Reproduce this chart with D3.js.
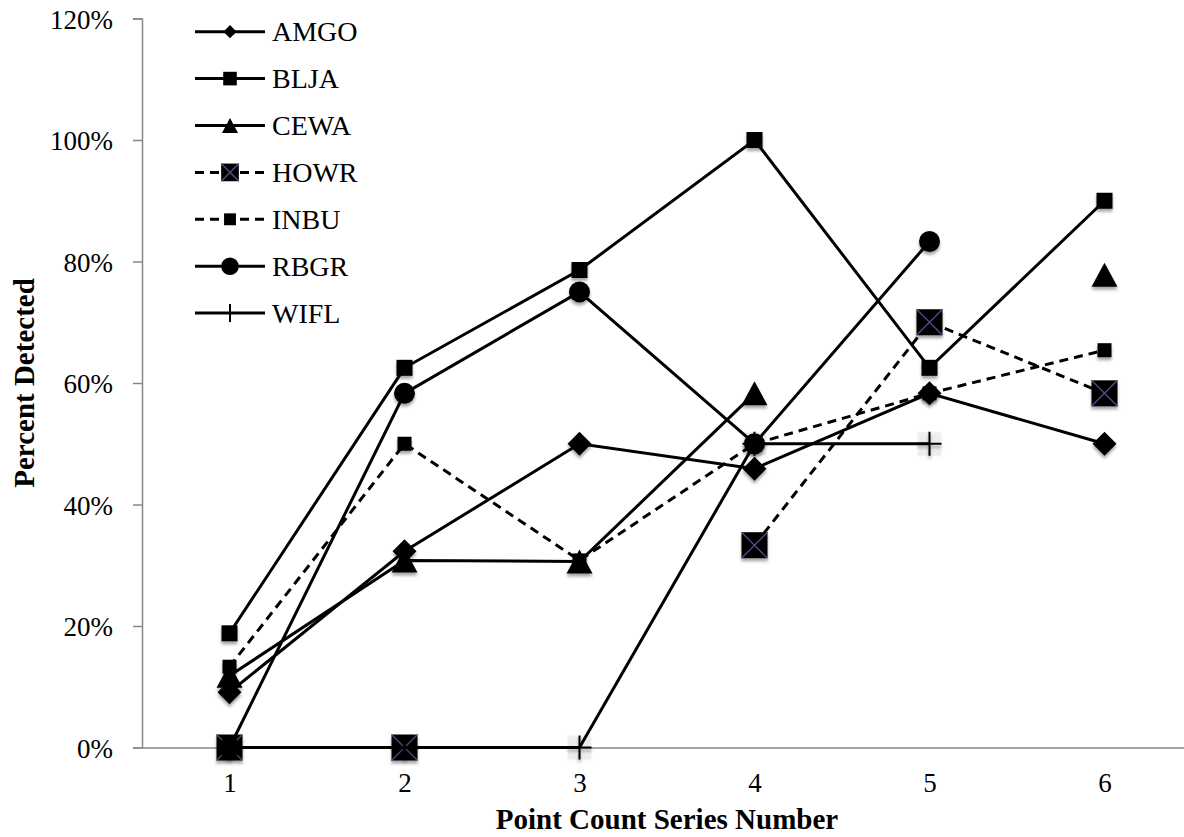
<body style="margin:0;background:#fff"></body>

<script type='text/javascript' src='https://d3js.org/d3.v7.min.js'></script>
<script>
    var width = 1184, height = 837;
    var serif = '"Liberation Serif", "Times New Roman", Times, serif';

    // data (percent detected)
    var categories = [1, 2, 3, 4, 5, 6];
    var yTicks = [0, 20, 40, 60, 80, 100, 120];
    var amgo = [9.1, 32.3, 50, 45.9, 58.3, 50];
    var blja = [18.8, 62.5, 78.6, 100, 62.5, 90];
    var cewa = [11.8, 30.8, 30.6, 58.3, null, 77.8];
    var howr = [0, 0, null, 33.3, 70, 58.3];
    var inbu = [13.3, 50, 30.8, 50, 58.3, 65.4];
    var rbgr = [0, 58.3, 75, 50, 83.3, null];
    var wifl = [0, 0, 0, 50, 50, null];

    var series = [
        { name: 'AMGO', values: amgo, dashed: false, marker: 'diamond', legendScale: 0.55 },
        { name: 'BLJA', values: blja, dashed: false, marker: 'square', legendScale: 0.85 },
        { name: 'CEWA', values: cewa, dashed: false, marker: 'triangle', legendScale: 0.62 },
        { name: 'HOWR', values: howr, dashed: true, marker: 'xsquare', legendScale: 0.68 },
        { name: 'INBU', values: inbu, dashed: true, marker: 'smallsquare', legendScale: 0.85 },
        { name: 'RBGR', values: rbgr, dashed: false, marker: 'circle', legendScale: 0.84 },
        { name: 'WIFL', values: wifl, dashed: false, marker: 'plus', legendScale: 0.75 }
    ];

    var svg = d3.select('body').append('svg')
        .attr('width', width).attr('height', height);

    // soft shadow under the markers
    var filt = svg.append('defs').append('filter').attr('id', 'shadow')
        .attr('x', '-50%').attr('y', '-50%').attr('width', '200%').attr('height', '200%');
    filt.append('feDropShadow').attr('dx', 0).attr('dy', 3).attr('stdDeviation', 1.8)
        .attr('flood-color', '#000').attr('flood-opacity', 0.35);

    var x = d3.scalePoint().domain(categories).range([142, 1192]).padding(0.5);
    var y = d3.scaleLinear().domain([0, 120]).range([747.5, 18.5]);

    // y axis
    var yAxis = svg.append('g').attr('transform', 'translate(142,0)')
        .call(d3.axisLeft(y).tickValues(yTicks).tickSize(9).tickPadding(20)
            .tickFormat(function (d) { return d + '%'; }));
    yAxis.select('.domain').attr('stroke', '#888').attr('stroke-width', 1.5);
    yAxis.selectAll('.tick line').attr('stroke', '#888').attr('stroke-width', 1.5);
    yAxis.selectAll('text').attr('fill', '#000').attr('dy', '0.36em')
        .style('font-family', serif).style('font-size', '27px');

    // x axis
    var xAxis = svg.append('g').attr('transform', 'translate(0,747.5)')
        .call(d3.axisBottom(x).tickSize(0).tickPadding(25));
    xAxis.select('.domain').attr('stroke', '#888').attr('stroke-width', 1.5);
    xAxis.selectAll('text').attr('fill', '#000')
        .style('font-family', serif).style('font-size', '27px');

    // axis titles
    svg.append('text').attr('x', 667).attr('y', 829).attr('text-anchor', 'middle')
        .style('font-family', serif).style('font-size', '29px').style('font-weight', 'bold')
        .text('Point Count Series Number');
    svg.append('text').attr('transform', 'translate(34,383) rotate(-90)')
        .attr('text-anchor', 'middle')
        .style('font-family', serif).style('font-size', '29px').style('font-weight', 'bold')
        .text('Percent Detected');

    function drawMarker(g, type, s, inLegend) {
        if (type === 'diamond') {
            var h = 12 * s;
            g.append('path').attr('d', 'M0,' + (-h) + 'L' + h + ',0L0,' + h + 'L' + (-h) + ',0Z').attr('fill', '#000');
        } else if (type === 'square') {
            var a = 8 * s;
            g.append('rect').attr('x', -a).attr('y', -a).attr('width', 2 * a).attr('height', 2 * a).attr('fill', '#000');
        } else if (type === 'smallsquare') {
            var b = 7 * s;
            g.append('rect').attr('x', -b).attr('y', -b).attr('width', 2 * b).attr('height', 2 * b).attr('fill', '#000');
        } else if (type === 'triangle') {
            var w = 13 * s, t = 12 * s;
            g.append('path').attr('d', 'M0,' + (-t) + 'L' + w + ',' + t + 'L' + (-w) + ',' + t + 'Z').attr('fill', '#000');
        } else if (type === 'xsquare') {
            var c = 13 * s;
            g.append('rect').attr('x', -c).attr('y', -c).attr('width', 2 * c).attr('height', 2 * c).attr('fill', '#000');
            g.append('path').attr('d', 'M' + (-c) + ',' + (-c) + 'L' + c + ',' + c + 'M' + c + ',' + (-c) + 'L' + (-c) + ',' + c)
                .attr('stroke', '#5e4a8a').attr('stroke-width', 1.3);
        } else if (type === 'circle') {
            g.append('circle').attr('r', 10.5 * s).attr('fill', '#000');
        } else if (type === 'plus') {
            var p = 12 * s;
            if (!inLegend) {
                // faint translucent box, as in the reference
                g.append('rect').attr('x', -p).attr('y', -p).attr('width', 2 * p).attr('height', 2 * p)
                    .attr('fill', '#000').attr('fill-opacity', 0.05);
            }
            g.append('path').attr('d', 'M' + (-p) + ',0L' + p + ',0M0,' + (-p) + 'L0,' + p)
                .attr('stroke', '#000').attr('stroke-width', 2);
        }
    }

    var line = d3.line()
        .defined(function (d) { return d.v !== null; })
        .x(function (d) { return x(d.c); })
        .y(function (d) { return y(d.v); });

    // each series: line, then its markers; later series on top
    series.forEach(function (s) {
        var pts = s.values.map(function (v, i) { return { c: categories[i], v: v }; });
        var g = svg.append('g');
        g.append('path').datum(pts).attr('d', line)
            .attr('fill', 'none').attr('stroke', '#000').attr('stroke-width', 3)
            .attr('stroke-dasharray', s.dashed ? '9,6' : null);
        pts.filter(function (d) { return d.v !== null; }).forEach(function (d) {
            var m = g.append('g').attr('transform', 'translate(' + x(d.c) + ',' + y(d.v) + ')')
                .attr('filter', 'url(#shadow)');
            drawMarker(m, s.marker, 1, false);
        });
    });

    // legend
    var legend = svg.append('g');
    series.forEach(function (s, i) {
        var ly = 31.7 + i * 46.9;
        var row = legend.append('g').attr('transform', 'translate(0,' + ly + ')');
        row.append('line').attr('x1', 195).attr('x2', 265).attr('y1', 0).attr('y2', 0)
            .attr('stroke', '#000').attr('stroke-width', 3)
            .attr('stroke-dasharray', s.dashed ? '9,6' : null);
        var m = row.append('g').attr('transform', 'translate(230,0)');
        drawMarker(m, s.marker, s.legendScale, true);
        row.append('text').attr('x', 272).attr('y', 9.5)
            .style('font-family', serif).style('font-size', '28px').text(s.name);
    });
</script>
